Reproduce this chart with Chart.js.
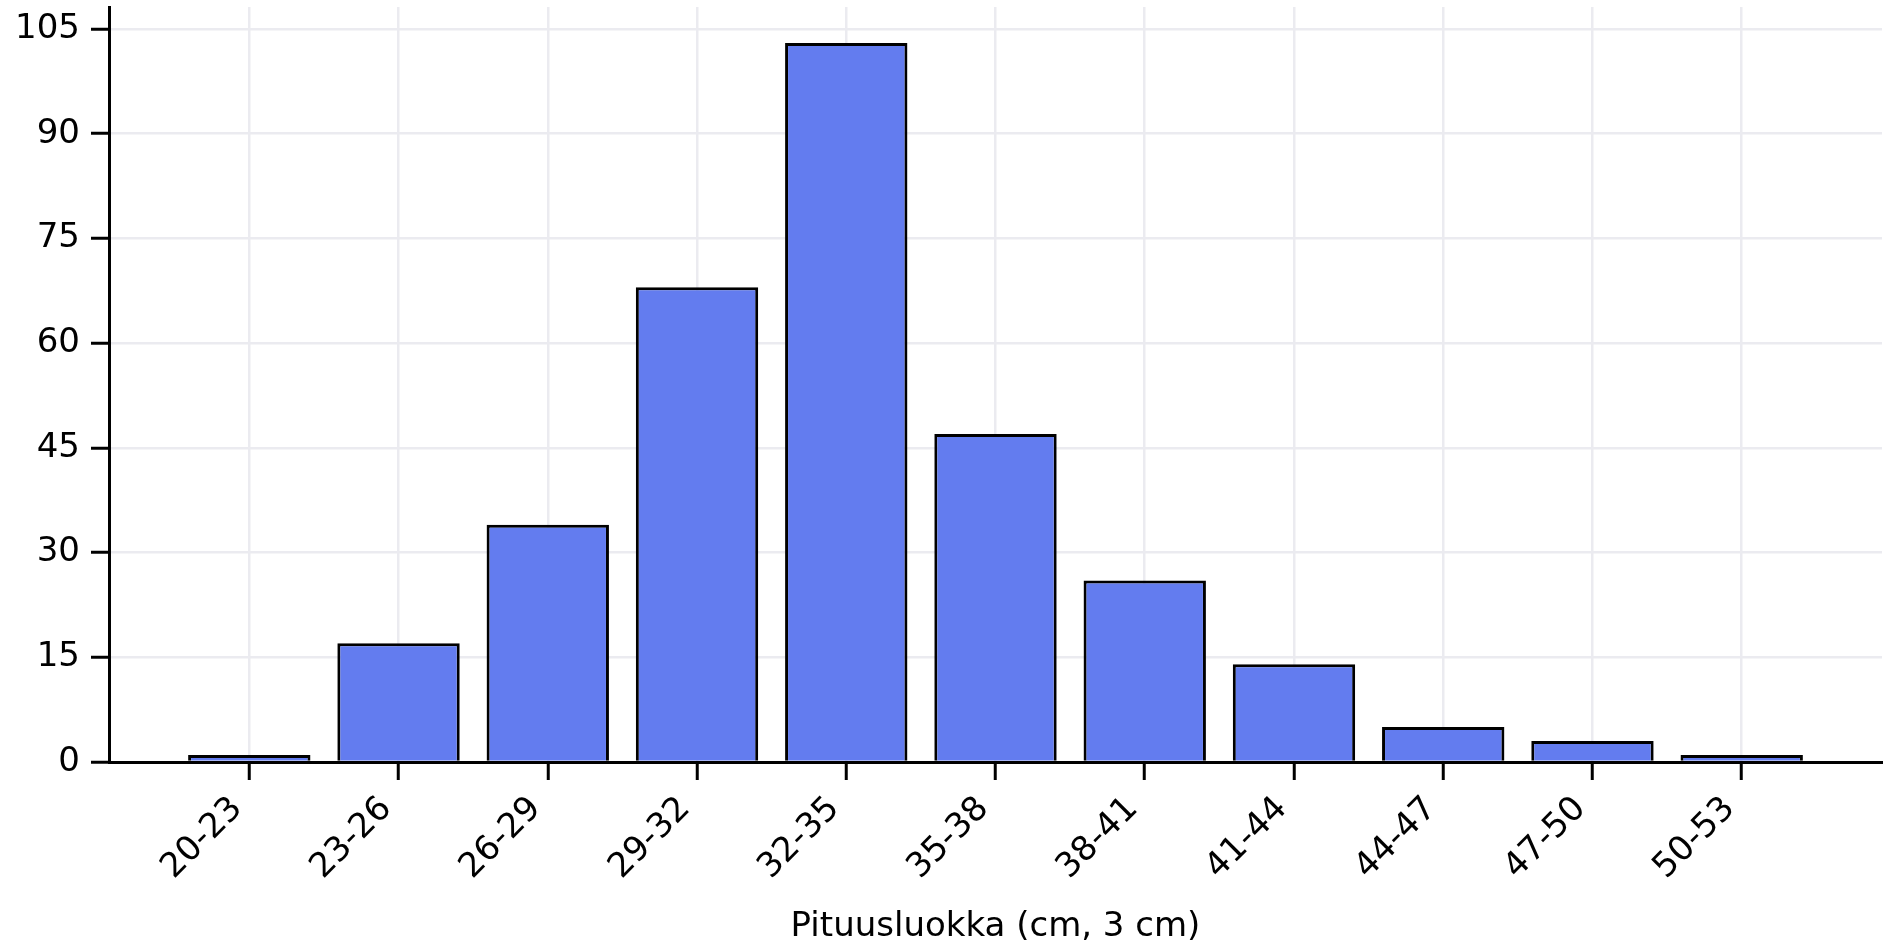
<!DOCTYPE html>
<html>
<head>
<meta charset="utf-8">
<script src="https://cdn.jsdelivr.net/npm/chart.js@4/dist/chart.umd.min.js"></script>
<style>
  html, body { margin: 0; padding: 0; background: #fff; }
  canvas { display: block; }
</style>
</head>
<body>
<canvas id="chart" width="1883" height="944"></canvas>
<script>
// Length classes (3 cm bins) and the number of fish in each
const categories = ['20-23', '23-26', '26-29', '29-32', '32-35', '35-38', '38-41', '41-44', '44-47', '47-50', '50-53'];
const counts = [1, 17, 34, 68, 103, 47, 26, 14, 5, 3, 1];
const yTicks = [0, 15, 30, 45, 60, 75, 90, 105];
const xTitle = 'Pituusluokka (cm, 3 cm)';

// Axis extents: bars are 0.8 wide, 5 % margin on each side of the data span
const barFrac = 0.8;
const xSpan = (categories.length - 1) + barFrac;
const xMin = -barFrac / 2 - 0.05 * xSpan;
const xMax = (categories.length - 1) + barFrac / 2 + 0.05 * xSpan;
const yMax = Math.max(...counts) * 1.05;

const FONT = { family: 'DejaVu Sans', size: 34 };
const GRID = '#ebebf0';

new Chart(document.getElementById('chart'), {
  type: 'bar',
  data: {
    datasets: [{
      data: counts.map((v, i) => ({ x: i, y: v })),
      backgroundColor: '#637cef',
      borderColor: '#000000',
      borderWidth: 3,
      borderSkipped: 'start',
      barPercentage: 0.82,
      categoryPercentage: 1.0
    }]
  },
  options: {
    responsive: false,
    animation: false,
    devicePixelRatio: 1,
    layout: { padding: { top: 7, right: 1, left: 0, bottom: 0 } },
    plugins: { legend: { display: false }, tooltip: { enabled: false } },
    scales: {
      x: {
        type: 'linear',
        min: xMin,
        max: xMax,
        offset: false,
        afterBuildTicks: s => { s.ticks = categories.map((_, i) => ({ value: i })); },
        afterFit: s => {
          s.height = 182;
          s.paddingLeft = 0; s.paddingRight = 0; s.paddingTop = 0; s.paddingBottom = 0;
        },
        grid: { offset: false, color: GRID, lineWidth: 2.5, tickColor: '#000', tickWidth: 3, tickLength: 18 },
        // axis line sits on top of the bars' bottom edges
        border: { display: true, color: '#000', width: 3, z: 1 },
        ticks: {
          autoSkip: false,
          minRotation: 45,
          maxRotation: 45,
          padding: 9,
          labelOffset: -12,
          color: '#000',
          font: FONT,
          callback: v => categories[v]
        },
        title: {
          display: true, text: xTitle, color: '#000',
          font: { family: 'DejaVu Sans', size: 34, lineHeight: 1.0 },
          padding: { top: 0, bottom: 0 }
        }
      },
      y: {
        min: 0,
        max: yMax,
        afterBuildTicks: s => { s.ticks = yTicks.map(v => ({ value: v })); },
        afterFit: s => {
          s.width = 109;
          s.paddingTop = 0; s.paddingBottom = 0;
        },
        grid: { color: GRID, lineWidth: 2.5, tickColor: '#000', tickWidth: 3, tickLength: 18 },
        border: { display: true, color: '#000', width: 3, z: 1 },
        ticks: { padding: 11, color: '#000', font: FONT }
      }
    }
  }
});
</script>
</body>
</html>
